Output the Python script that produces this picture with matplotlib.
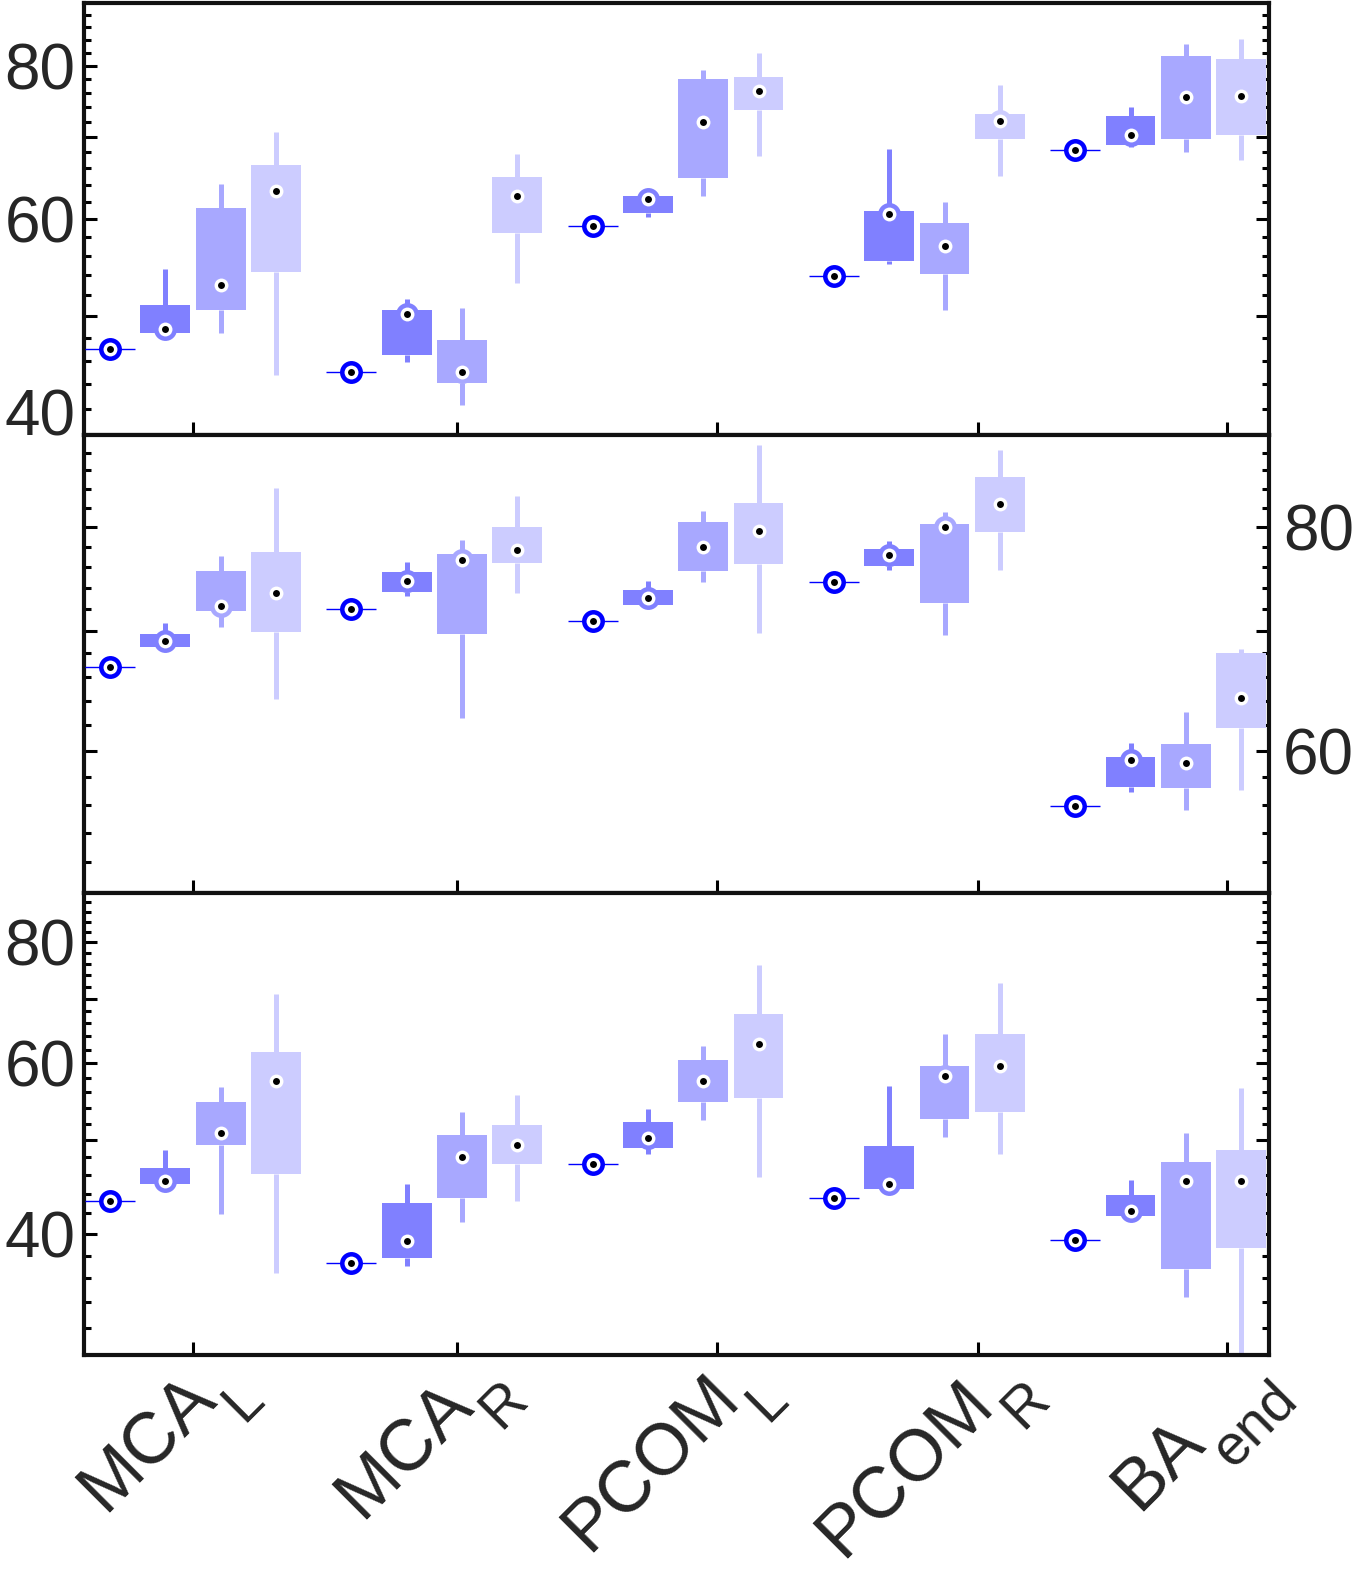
import numpy as np
import matplotlib.pyplot as plt
from matplotlib.ticker import FixedLocator, FixedFormatter, NullFormatter

plt.rcParams['font.family'] = ['Liberation Sans', 'DejaVu Sans']

vessels = ['MCA', 'MCA', 'PCOM', 'PCOM', 'BA']
vessel_subs = ['L', 'R', 'L', 'R', 'end']

# first entry of each group: single value (drawn as ring), then 3 boxes (lo, q1, med, q3, hi)
top_base = [47.0, 45.0, 59.2, 53.9, 68.3]
top_boxes = [
    [(48.4, 48.4, 48.8, 51.1, 54.6), (48.4, 50.6, 53.0, 61.3, 64.1), (44.8, 54.3, 63.3, 66.4, 70.6)],
    [(45.9, 46.5, 50.2, 50.6, 51.6), (42.3, 44.1, 45.0, 47.8, 50.8), (53.2, 58.5, 62.7, 64.9, 67.8)],
    [(60.2, 60.7, 62.3, 62.7, 62.9), (62.7, 64.8, 72.0, 78.0, 79.4), (67.5, 73.7, 76.3, 78.4, 82.0)],
    [(55.1, 55.5, 60.6, 60.9, 68.5), (50.6, 54.1, 57.0, 59.6, 62.0), (65.0, 69.8, 72.1, 73.1, 77.2)],
    [(68.7, 69.0, 70.2, 72.8, 74.1), (68.0, 69.8, 75.5, 81.5, 83.3), (67.1, 70.3, 75.6, 81.0, 84.2)],
]

mid_base = [66.8, 72.0, 70.9, 74.5, 55.9]
mid_boxes = [
    [(68.5, 68.6, 69.1, 69.7, 70.7), (70.3, 71.8, 72.3, 75.6, 77.1), (64.1, 69.9, 73.5, 77.5, 84.1)],
    [(73.2, 73.6, 74.6, 75.5, 76.5), (62.6, 69.7, 76.7, 77.3, 78.7), (73.5, 76.4, 77.7, 80.0, 83.2)],
    [(72.2, 72.4, 73.0, 73.8, 74.6), (74.5, 75.6, 77.9, 80.5, 81.6), (69.8, 76.3, 79.6, 82.5, 88.9)],
    [(75.7, 76.1, 77.2, 77.8, 78.6), (69.6, 72.5, 80.0, 80.3, 81.5), (75.7, 79.5, 82.4, 85.3, 88.3)],
    [(56.9, 57.3, 59.3, 59.5, 60.6), (55.6, 57.2, 59.1, 60.5, 63.1), (57.1, 61.8, 64.2, 68.0, 68.4)],
]

bot_base = [43.3, 37.3, 47.2, 43.6, 39.4]
bot_boxes = [
    [(45.0, 45.0, 45.4, 46.8, 48.8), (41.9, 49.4, 50.8, 54.7, 56.8), (36.5, 46.1, 57.6, 61.6, 70.7)],
    [(37.1, 37.8, 39.3, 43.1, 45.1), (41.2, 43.6, 48.0, 50.6, 53.5), (43.3, 47.3, 49.4, 51.8, 55.7)],
    [(48.4, 49.1, 50.3, 52.2, 53.9), (52.4, 54.8, 57.6, 60.5, 62.5), (45.8, 55.3, 62.8, 67.5, 75.9)],
    [(44.5, 44.5, 45.0, 49.3, 56.9), (50.4, 52.6, 58.2, 59.6, 64.4), (48.4, 53.5, 59.6, 64.4, 72.7)],
    [(41.7, 41.7, 42.2, 43.9, 45.5), (34.4, 36.8, 45.4, 47.5, 50.9), (29.5, 38.7, 45.4, 48.9, 56.6)],
]

base_color = '#0000ff'
box_colors = ['#8080ff', '#a8a8ff', '#ccccff']
group_step = 4.364
tick_pos = [1.50, 6.27, 10.98, 15.70, 20.20]
txt_color = '#262626'


def median_marker(ax, x, y, c):
    ax.plot(x, y, 'o', ms=16.5, mew=0, color=c, zorder=5)
    ax.plot(x, y, 'o', ms=10, mew=0, color='white', zorder=6)
    ax.plot(x, y, 'o', ms=5, mew=0, color='black', zorder=7)


def draw_panel(ax, base, boxes, ylim, majors, labels, right=False):
    ax.set_yscale('log')
    for g in range(5):
        x0 = g * group_step
        ax.hlines(base[g], x0 - 0.45, x0 + 0.45, color=base_color, lw=1, zorder=4)
        median_marker(ax, x0, base[g], base_color)
        for j, (lo, q1, med, q3, hi) in enumerate(boxes[g]):
            c = box_colors[j]
            x = x0 + j + 1
            ax.bxp([dict(whislo=lo, q1=q1, med=med, q3=q3, whishi=hi, fliers=[])],
                   positions=[x], widths=0.9, patch_artist=True,
                   showcaps=False, showfliers=False, manage_ticks=False,
                   boxprops=dict(facecolor=c, edgecolor='none', lw=0),
                   whiskerprops=dict(color=c, lw=3.6, solid_capstyle='butt'),
                   medianprops=dict(linestyle='none'))
            median_marker(ax, x, med, c)

    ax.set_xlim(-0.47, 20.96)
    ax.set_ylim(*ylim)
    ax.yaxis.set_major_locator(FixedLocator(majors))
    ax.yaxis.set_major_formatter(FixedFormatter(labels))
    ax.yaxis.set_minor_locator(FixedLocator([v for v in range(30, 92, 2) if v % 10]))
    ax.yaxis.set_minor_formatter(NullFormatter())
    ax.tick_params(axis='y', which='both', direction='in', left=True, right=True,
                   width=2.2, labelsize=46, labelcolor=txt_color)
    ax.tick_params(axis='y', which='major', length=9.6, pad=6)
    ax.tick_params(axis='y', which='minor', length=5)
    if right:
        ax.tick_params(axis='y', labelleft=False, labelright=True, pad=10)
    ax.set_xticks(tick_pos)
    ax.tick_params(axis='x', direction='in', length=9.6, width=2.2, top=False,
                   labelbottom=False)
    for s in ax.spines.values():
        s.set_linewidth(3)
        s.set_color('#111111')


fig = plt.figure(figsize=(13.58, 15.71), dpi=100)
ax1 = fig.add_axes([0.0619, 0.7231, 0.8726, 0.2749])
ax2 = fig.add_axes([0.0619, 0.4316, 0.8726, 0.2915])
ax3 = fig.add_axes([0.0619, 0.1375, 0.8726, 0.2941])

draw_panel(ax1, top_base, top_boxes, (40, 90), [40, 50, 60, 70, 80], ['40', '', '60', '', '80'])
draw_panel(ax2, mid_base, mid_boxes, (50, 90), [50, 60, 70, 80], ['', '60', '', '80'], right=True)
draw_panel(ax3, bot_base, bot_boxes, (30, 90), [40, 50, 60, 70, 80], ['40', '', '60', '', '80'])

# lowest label of the top panel sits above its tick
ax1.get_yticklabels()[0].set_va('baseline')

# rotated x labels with a dropped subscript, built from two texts
renderer = fig.canvas.get_renderer()
main_size, sub_size = 52, 41
u = np.array([1, 1]) / np.sqrt(2)    # along baseline (pixels, y up)
d = np.array([1, -1]) / np.sqrt(2)   # below baseline
trans = ax3.get_xaxis_transform()
for x, name, sub in zip(tick_pos, vessels, vessel_subs):
    tmp = fig.text(0, 0, sub, fontsize=sub_size)
    w_sub = tmp.get_window_extent(renderer).width
    tmp.remove()
    end = np.array([73, -46])
    sub_start = end - w_sub * u
    main_end = sub_start - 2 * u - 36 * d
    ax3.annotate(name, xy=(x, 0), xycoords=trans, xytext=main_end, textcoords='offset pixels',
                 rotation=45, rotation_mode='anchor', ha='right', va='baseline',
                 fontsize=main_size, color=txt_color, annotation_clip=False)
    ax3.annotate(sub, xy=(x, 0), xycoords=trans, xytext=sub_start, textcoords='offset pixels',
                 rotation=45, rotation_mode='anchor', ha='left', va='baseline',
                 fontsize=sub_size, color=txt_color, annotation_clip=False)

fig.savefig('out.png', dpi=100)
